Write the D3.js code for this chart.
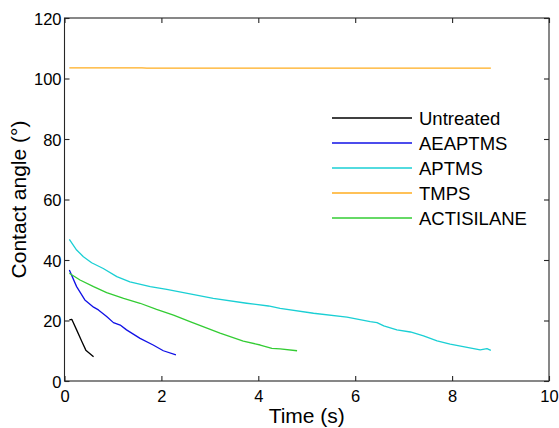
<!DOCTYPE html>
<html><head><meta charset="utf-8">
<script src="https://cdn.jsdelivr.net/npm/d3@7"></script>
<style>body{margin:0;background:#fff}svg{display:block}text{font-family:"Liberation Sans",Arial,sans-serif;fill:#000}</style>
</head><body><svg id="c" width="559" height="428"></svg>
<script>
const seriesNames = ["Untreated","AEAPTMS","APTMS","TMPS","ACTISILANE"];
const seriesColors = ["#000000","#1010e6","#1acfd4","#ffad1f","#33cc33"];
const untreatedT = [0.1,0.15,0.25,0.36,0.44,0.6];
const untreatedV = [20.2,20.4,16.9,13.0,10.2,8.0];
const aeaptmsT = [0.1,0.25,0.42,0.6,0.7,0.87,1.01,1.15,1.28,1.56,1.83,2.04,2.3];
const aeaptmsV = [36.7,31.2,26.8,24.4,23.5,21.3,19.3,18.5,16.9,14.1,11.9,10.0,8.6];
const aptmsT = [0.1,0.25,0.39,0.56,0.8,1.08,1.35,1.77,2.11,2.59,3.07,3.76,4.21,4.45,5.14,5.83,6.31,6.45,6.59,6.86,7.14,7.41,7.69,7.96,8.31,8.58,8.72,8.8];
const aptmsV = [46.8,43.3,41.1,39.1,37.2,34.5,32.8,31.2,30.3,28.8,27.3,25.7,24.8,24.0,22.4,21.1,19.6,19.3,18.2,16.9,16.2,14.9,13.3,12.2,11.1,10.3,10.7,10.1];
const tmpsT = [0.1,1.6,1.7,8.8];
const tmpsV = [103.5,103.5,103.4,103.4];
const actiT = [0.1,0.32,0.6,0.87,1.22,1.56,1.9,2.25,2.59,3.21,3.69,4.04,4.28,4.45,4.8];
const actiV = [35.6,33.4,31.2,29.2,27.3,25.7,23.7,21.8,19.6,15.8,13.2,11.9,10.8,10.6,10.0];
const xTicks = [0,2,4,6,8,10];
const yTicks = [0,20,40,60,80,100,120];

const seriesT = [untreatedT,aeaptmsT,aptmsT,tmpsT,actiT];
const seriesV = [untreatedV,aeaptmsV,aptmsV,tmpsV,actiV];

const L=64.5,R=549,T=18,B=381;
const svg=d3.select("#c");
const x=d3.scaleLinear().domain([0,10]).range([L,R]);
const y=d3.scaleLinear().domain([0,120]).range([B,T]);
const axCol="#262626";
const tl=5;

svg.append("rect").attr("x",L).attr("y",T).attr("width",R-L).attr("height",B-T)
  .attr("fill","none").attr("stroke",axCol).attr("stroke-width",1.1);

const xb=svg.append("g").attr("transform",`translate(0,${B})`)
  .call(d3.axisBottom(x).tickValues(xTicks).tickSizeInner(-tl).tickSizeOuter(0).tickFormat(d3.format("d")));
const xt=svg.append("g").attr("transform",`translate(0,${T})`)
  .call(d3.axisTop(x).tickValues(xTicks).tickSizeInner(-tl).tickSizeOuter(0).tickFormat(""));
const yl=svg.append("g").attr("transform",`translate(${L},0)`)
  .call(d3.axisLeft(y).tickValues(yTicks).tickSizeInner(-tl).tickSizeOuter(0).tickFormat(d3.format("d")));
const yr=svg.append("g").attr("transform",`translate(${R},0)`)
  .call(d3.axisRight(y).tickValues(yTicks).tickSizeInner(-tl).tickSizeOuter(0).tickFormat(""));
[xb,xt,yl,yr].forEach(g=>{
  g.select(".domain").remove();
  g.selectAll(".tick line").attr("stroke",axCol).attr("stroke-width",1.1);
  g.selectAll("text").attr("font-size",16.5).attr("fill",axCol).attr("font-family","Liberation Sans, Arial, sans-serif");
});
xb.selectAll("text").attr("y",9).attr("dy","0.71em");
yl.selectAll("text").attr("x",-3).attr("dy","0.38em");

const line=d3.line().x(d=>x(d[0])).y(d=>y(d[1]));
seriesT.forEach((ts,i)=>{
  const pts=ts.map((t,j)=>[t,seriesV[i][j]]);
  svg.append("path").datum(pts).attr("d",line).attr("fill","none")
    .attr("stroke",seriesColors[i]).attr("stroke-width",1.3).attr("stroke-linejoin","round");
});

const lg=svg.append("g");
seriesNames.forEach((n,i)=>{
  const yy=118+i*25;
  lg.append("line").attr("x1",332).attr("x2",412).attr("y1",yy).attr("y2",yy)
    .attr("stroke",seriesColors[i]).attr("stroke-width",1.3);
  lg.append("text").attr("x",419).attr("y",yy).attr("dy","0.36em").attr("font-size",18.5).text(n);
});

svg.append("text").attr("x",(L+R)/2).attr("y",422.5).attr("text-anchor","middle").attr("font-size",21).text("Time (s)");
svg.append("text").attr("transform",`translate(26,${(T+B)/2}) rotate(-90)`).attr("text-anchor","middle").attr("font-size",21).text("Contact angle (°)");
</script></body></html>
